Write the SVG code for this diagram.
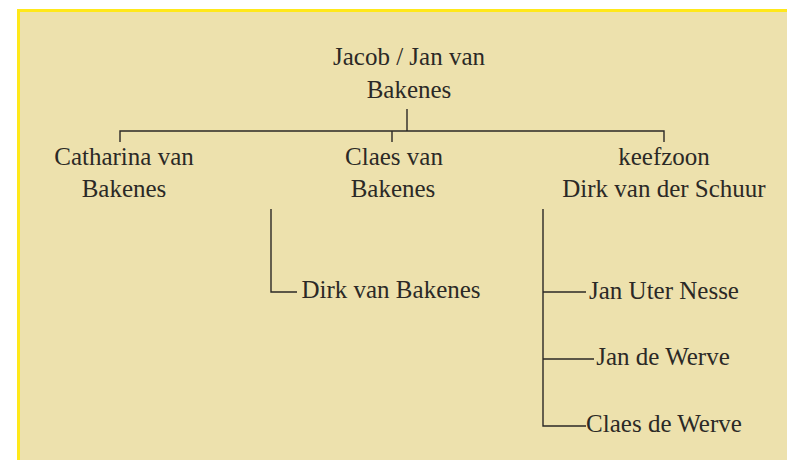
<svg xmlns="http://www.w3.org/2000/svg" width="787" height="460" viewBox="0 0 787 460">
<style>
text{font-family:'Liberation Serif','DejaVu Serif',serif;font-size:25px;fill:#2b2926;text-anchor:middle}
.c{stroke:#2b2926;stroke-width:1.4;fill:none}
</style>
<rect x="0" y="0" width="787" height="460" fill="#ffffff"/>
<rect x="18.5" y="10.5" width="790" height="470" fill="#ede1ad" stroke="#ffe81a" stroke-width="3"/>
<g id="connectors">
<path class="c" d="M407 109V131M120 142V131H664V142M392 131V142"/>
<path class="c" d="M271 209V292H297"/>
<path class="c" d="M543 209V426H586M543 292H586M543 359H594"/>
</g>
<g id="n-jacob"><text x="409" y="65" font-family="Liberation Serif, serif">Jacob / Jan van</text><text x="409" y="98">Bakenes</text></g>
<g id="n-catharina"><text x="124" y="165">Catharina van</text><text x="124" y="197">Bakenes</text></g>
<g id="n-claes"><text x="394" y="165">Claes van</text><text x="393" y="197">Bakenes</text></g>
<g id="n-dirkschuur"><text x="664" y="165">keefzoon</text><text x="664" y="197">Dirk van der Schuur</text></g>
<g id="n-dirkbakenes"><text x="391" y="298">Dirk van Bakenes</text></g>
<g id="n-uternesse"><text x="664" y="299">Jan Uter Nesse</text></g>
<g id="n-jandewerve"><text x="663" y="365">Jan de Werve</text></g>
<g id="n-claesdewerve"><text x="664" y="432">Claes de Werve</text></g>
</svg>
